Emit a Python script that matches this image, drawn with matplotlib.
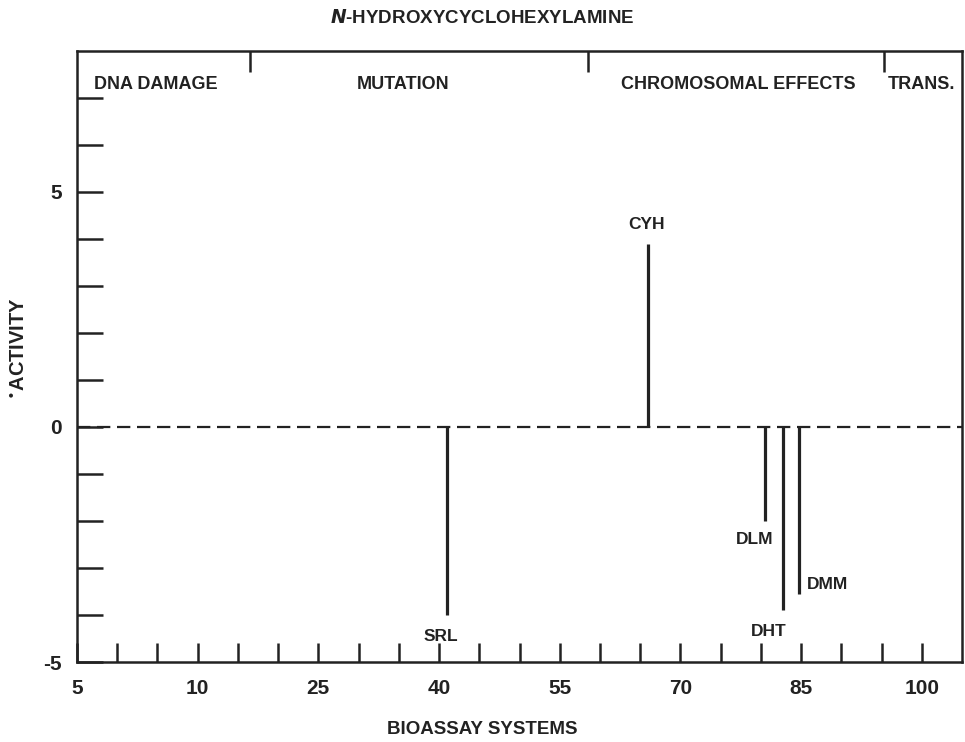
import matplotlib
matplotlib.use('Agg')
import matplotlib.pyplot as plt

plt.rcParams['font.family'] = ['Liberation Sans', 'DejaVu Sans']
plt.rcParams['axes.unicode_minus'] = False

# Bioassay positions (tick index along the axis) and activity values
systems = ['SRL', 'CYH', 'DLM', 'DHT', 'DMM']
positions = [9.2, 14.2, 17.1, 17.55, 17.95]
activity = [-4.0, 3.9, -2.0, -3.9, -3.55]

x_tick_labels = ['5', '10', '25', '40', '55', '70', '85', '100']
sections = ['DNA DAMAGE', 'MUTATION', 'CHROMOSOMAL EFFECTS', 'TRANS.']
section_centers = [1.95, 8.1, 16.45, 21.0]
dividers = [4.3, 12.7, 20.05]

fig = plt.figure(figsize=(9.65, 7.42), dpi=100)
ax = fig.add_axes([0.0798, 0.1078, 0.9171, 0.8235])

ax.set_xlim(0, 22)
ax.set_ylim(-5, 8)

# zero baseline
ax.axhline(0, color='#222222', lw=1.6, ls=(0, (6, 3)), zorder=1)

# activity bars
ax.vlines(positions, 0, activity, color='#222222', lw=2.3, zorder=2)

# bar labels
label_offsets = {'SRL': (-0.15, -0.45),
                 'CYH': (-0.05, 0.4),
                 'DLM': (-0.25, -0.4),
                 'DHT': (-0.35, -0.45),
                 'DMM': (0.7, 0.2)}
for name, xp, val in zip(systems, positions, activity):
    dx, dy = label_offsets[name]
    ax.text(xp + dx, val + dy, name, ha='center', va='center', fontsize=12.5,
            fontweight='bold', color='#222222')

# section dividers and names
for d in dividers:
    ax.plot([d, d], [8, 7.55], color='#222222', lw=1.8, solid_capstyle='butt')
for name, c in zip(sections, section_centers):
    ax.text(c, 7.28, name, ha='center', va='center', fontsize=13,
            fontweight='bold', color='#222222')

# ticks
ax.set_xticks(range(1, 22), minor=True)
ax.set_xticks(range(0, 22, 3))
ax.set_xticklabels(x_tick_labels)
ax.set_yticks([-5, 0, 5])
ax.set_yticks(range(-4, 8), minor=True)
ax.tick_params(axis='both', which='both', direction='in', color='#222222',
               width=1.8)
ax.tick_params(axis='x', which='both', length=14)
ax.tick_params(axis='y', which='both', length=19)
ax.tick_params(axis='both', which='major', labelsize=15, labelcolor='#222222')
ax.tick_params(axis='x', which='major', pad=12)
ax.tick_params(axis='y', which='major', pad=11)
for lab in ax.get_xticklabels() + ax.get_yticklabels():
    lab.set_fontweight('bold')

for sp in ax.spines.values():
    sp.set_linewidth(1.8)
    sp.set_color('#222222')

fig.text(0.5, 0.017, 'BIOASSAY SYSTEMS', ha='center', va='center',
         fontsize=13.5, fontweight='bold', color='#222222')
fig.text(0.019, 0.53, r'$^{\bullet}$ACTIVITY', ha='center', va='center',
         rotation=90, fontsize=14.5, fontweight='bold', color='#222222')
fig.text(0.5, 0.976, r'$\bfit{N}$-HYDROXYCYCLOHEXYLAMINE', ha='center',
         va='center', fontsize=13.5, fontweight='bold', color='#222222')

fig.savefig('out.png', dpi=100)
